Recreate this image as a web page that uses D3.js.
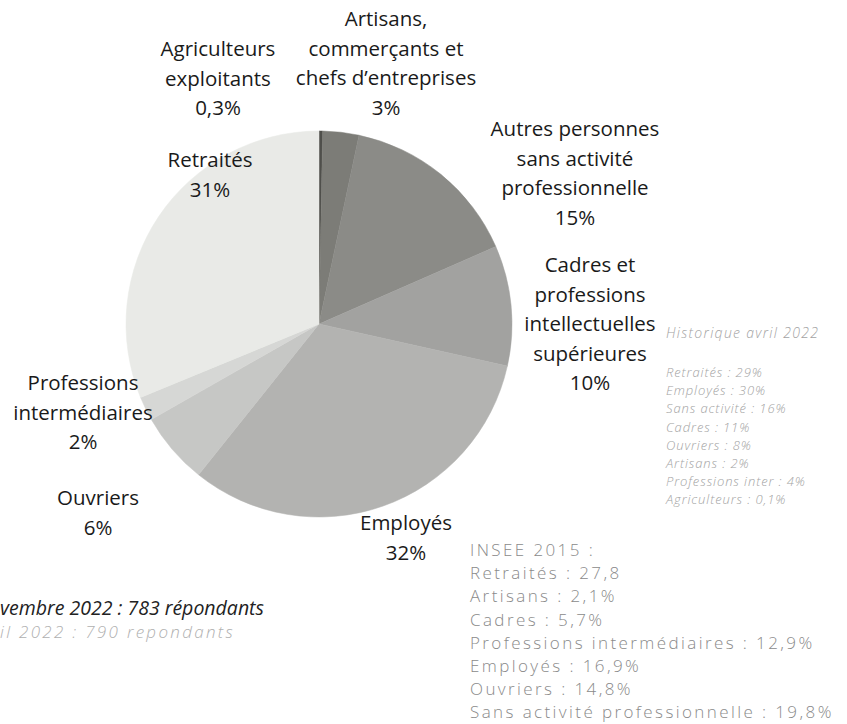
<!DOCTYPE html>
<html><head><meta charset="utf-8">
<script src="https://cdn.jsdelivr.net/npm/d3@7"></script>
<style>
html,body{margin:0;padding:0;background:#fff;}
svg{display:block;}
</style></head>
<body>
<svg id="c" width="847" height="724"></svg>
<script>
// ---- data ----
const categories = [
  ["Agriculteurs", "exploitants"],
  ["Artisans,", "commerçants et", "chefs d\u2019entreprises"],
  ["Autres personnes", "sans activité", "professionnelle"],
  ["Cadres et", "professions", "intellectuelles", "supérieures"],
  ["Employés"],
  ["Ouvriers"],
  ["Professions", "intermédiaires"],
  ["Retraités"]
];
const values = [0.3, 3, 15, 10, 32, 6, 2, 31];
const valueLabels = ["0,3%", "3%", "15%", "10%", "32%", "6%", "2%", "31%"];
const histoTitle = "Historique avril 2022";
const histoLines = ["Retraités : 29%", "Employés : 30%", "Sans activité : 16%", "Cadres : 11%",
  "Ouvriers : 8%", "Artisans : 2%", "Professions inter : 4%", "Agriculteurs : 0,1%"];
const inseeLines = ["INSEE 2015 :", "Retraités : 27,8", "Artisans : 2,1%", "Cadres : 5,7%",
  "Professions intermédiaires : 12,9%", "Employés : 16,9%", "Ouvriers : 14,8%",
  "Sans activité professionnelle : 19,8%"];
const noteLines = ["vembre 2022 : 783 répondants", "il 2022 : 790 repondants"];

// ---- styles / layout ----
const colors = ["#4f4f4b", "#7c7c77", "#8b8b87", "#a2a2a0", "#b3b3b1", "#c6c7c5", "#d6d7d5", "#e9eae7"];
const labelPos = [[218, 56], [386, 26], [575, 136], [590, 272], [406, 530], [98, 505], [83, 390], [210, 167]];
const cx = 319, cy = 324, R = 193;

const svg = d3.select("#c");
const pie = d3.pie().sort(null).value(d => d)(values);
const arc = d3.arc().innerRadius(0).outerRadius(R);

svg.append("g").attr("transform", `translate(${cx},${cy})`)
  .selectAll("path").data(pie).join("path")
  .attr("d", arc)
  .attr("fill", (d, i) => colors[i])
  .attr("stroke", (d, i) => colors[i])
  .attr("stroke-width", 0.5);

const lh = 29.5;
const lab = svg.append("g")
  .attr("font-family", "'Open Sans', 'Noto Sans', sans-serif")
  .attr("font-size", 20.5).attr("font-weight", 500).attr("fill", "#1a1a1a")
  .attr("text-anchor", "middle");
categories.forEach((lines, i) => {
  const [x, y] = labelPos[i];
  const t = lab.append("text").attr("x", x).attr("y", y);
  lines.concat([valueLabels[i]]).forEach((s, j) => {
    t.append("tspan").attr("x", x).attr("y", y + j * lh).text(s);
  });
});

// Historique
const h = svg.append("g")
  .attr("font-family", "'Open Sans', sans-serif").attr("font-style", "italic")
  .attr("font-weight", 300).attr("fill", "#a3a3a3");
h.append("text").attr("x", 666).attr("y", 338).attr("font-size", 14)
  .attr("letter-spacing", 1.3).text(histoTitle);
histoLines.forEach((s, i) => {
  h.append("text").attr("x", 666).attr("y", 377 + i * 18.2).attr("font-size", 13)
    .attr("letter-spacing", 0.9).text(s);
});

// INSEE
const g2 = svg.append("g")
  .attr("font-family", "'Open Sans', sans-serif").attr("font-weight", 300)
  .attr("font-size", 17).attr("letter-spacing", 2.4).attr("fill", "#8a8a8a");
inseeLines.forEach((s, i) => {
  g2.append("text").attr("x", 470).attr("y", 556 + i * 23.2).text(s);
});

// notes
svg.append("text").attr("x", 0).attr("y", 615)
  .attr("font-family", "'Open Sans', sans-serif").attr("font-style", "italic")
  .attr("font-weight", 500).attr("font-size", 19.5).attr("fill", "#222").text(noteLines[0]);
svg.append("text").attr("x", 0).attr("y", 638)
  .attr("font-family", "'Open Sans', sans-serif").attr("font-style", "italic")
  .attr("font-weight", 300).attr("font-size", 17).attr("letter-spacing", 2.3)
  .attr("fill", "#b0b0b0").text(noteLines[1]);
</script>
</body></html>
